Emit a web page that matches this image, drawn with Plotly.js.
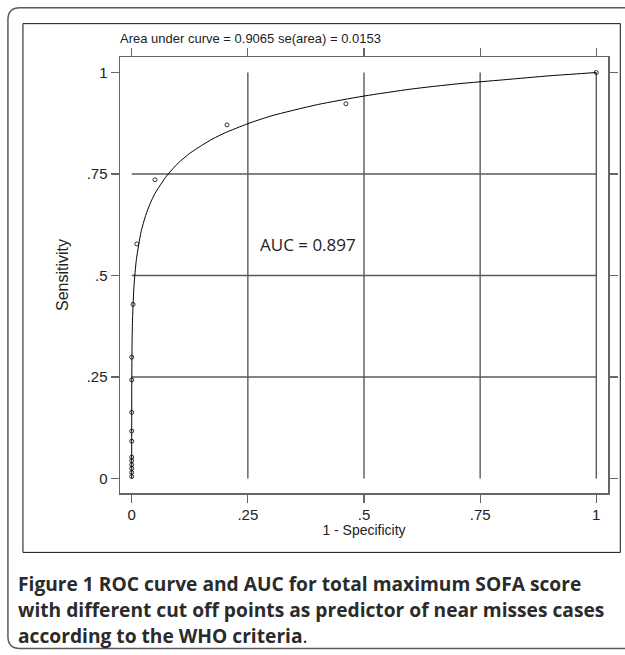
<!DOCTYPE html>
<html>
<head>
<meta charset="utf-8">
<script src="https://cdn.plot.ly/plotly-3.0.1.min.js"></script>
<style>
  html, body { margin: 0; padding: 0; background: #ffffff; }
  #chart { width: 625px; height: 655px; }
</style>
</head>
<body>
<div id="chart"></div>
<script>
// ---- data ----
// fitted ROC curve (1 - specificity, sensitivity)
const curveX = [0, 0.00001, 0.0001, 0.0005, 0.001, 0.002, 0.005, 0.01, 0.02, 0.03, 0.04, 0.05, 0.075, 0.1, 0.125, 0.15, 0.175, 0.2, 0.25, 0.3, 0.4, 0.5, 0.6, 0.7, 0.8, 0.9, 0.95, 1];
const curveY = [0, 0.13, 0.216, 0.304, 0.35, 0.401, 0.476, 0.539, 0.607, 0.648, 0.678, 0.702, 0.745, 0.777, 0.801, 0.82, 0.837, 0.851, 0.874, 0.893, 0.921, 0.942, 0.959, 0.972, 0.982, 0.992, 0.996, 1];
// empirical cut-off points
const pointX = [0, 0, 0, 0, 0, 0, 0, 0, 0, 0, 0, 0.003, 0.011, 0.05, 0.205, 0.461, 1];
const pointY = [0.005, 0.015, 0.025, 0.034, 0.044, 0.053, 0.092, 0.117, 0.163, 0.243, 0.299, 0.429, 0.578, 0.736, 0.871, 0.923, 1];
// axes
const xTickVals = [0, 0.25, 0.5, 0.75, 1];
const xTickText = ['0', '.25', '.5', '.75', '1'];
const yTickVals = [0, 0.25, 0.5, 0.75, 1];
const yTickText = ['0', '.25', '.5', '.75', '1'];
const xGridVals = [0.25, 0.5, 0.75, 1];
const yGridVals = [0.25, 0.5, 0.75];
// texts
const chartTitle = 'Area under curve = 0.9065 se(area) = 0.0153';
const xTitle = '1 - Specificity';
const yTitle = 'Sensitivity';
const aucLabel = 'AUC = 0.897';
const captionLines = [
  '<b>Figure 1</b> <b>ROC curve and AUC for total maximum SOFA score</b>',
  '<b>with different cut off points as predictor of near misses cases</b>',
  '<b>according to the WHO criteria</b>.'
];

// ---- layout geometry (pixels) ----
const L = 120, R = 607.7, T = 57.3, B = 492.7;
const W = R - L, H = B - T;
const px = x => (x - L) / W;
const py = y => (B - y) / H;

const sans = 'Liberation Sans, Arial, sans-serif';
const axisCol = '#666666';
const gridCol = '#5a5a5a';

const shapes = [];
xGridVals.forEach(v => shapes.push({type: 'line', xref: 'x', yref: 'y', x0: v, x1: v, y0: 0, y1: 1, line: {color: gridCol, width: 1.4}, layer: 'below'}));
yGridVals.forEach(v => shapes.push({type: 'line', xref: 'x', yref: 'y', x0: 0, x1: 1, y0: v, y1: v, line: {color: gridCol, width: 1.4}, layer: 'below'}));

// outer rounded frame
const P = (x, y) => px(x).toFixed(5) + ',' + py(y).toFixed(5);
shapes.push({
  type: 'path', xref: 'paper', yref: 'paper',
  path: 'M ' + P(640, 8) + ' L ' + P(20, 8) + ' Q ' + P(8, 8) + ' ' + P(8, 20) +
        ' L ' + P(8, 636) + ' Q ' + P(8, 648) + ' ' + P(20, 648) + ' L ' + P(640, 648),
  line: {color: '#5a5a5a', width: 1.5}
});
// inner chart frame
shapes.push({type: 'rect', xref: 'paper', yref: 'paper', x0: px(23), x1: px(620), y0: py(24), y1: py(552), line: {color: '#111111', width: 1}});

const annotations = [
  {xref: 'paper', yref: 'paper', x: px(308), y: py(245), text: aucLabel, showarrow: false,
   xanchor: 'center', yanchor: 'middle', font: {family: 'Open Sans, sans-serif', size: 17, color: '#222222'}}
];
const capY = [583, 609, 635];
captionLines.forEach((t, i) => annotations.push({
  xref: 'paper', yref: 'paper', x: px(16), y: py(capY[i]), text: t, showarrow: false,
  xanchor: 'left', yanchor: 'middle', align: 'left',
  font: {family: 'Open Sans, sans-serif', size: 19.2, color: '#2b2b2b'}
}));

const traces = [
  {x: curveX, y: curveY, type: 'scatter', mode: 'lines', line: {color: '#000000', width: 1, shape: 'spline', smoothing: 0.6}, hoverinfo: 'skip'},
  {x: pointX, y: pointY, type: 'scatter', mode: 'markers', marker: {symbol: 'circle-open', size: 4, color: '#000000', line: {width: 0.8}}}
];

const layout = {
  width: 625, height: 655,
  margin: {l: L, r: 625 - R, t: T, b: 655 - B, pad: 0},
  paper_bgcolor: '#ffffff', plot_bgcolor: '#ffffff',
  showlegend: false,
  title: {text: chartTitle, xref: 'paper', x: 0, xanchor: 'left', yref: 'container', y: 1 - 38 / 655, yanchor: 'middle',
          font: {family: sans, size: 13, color: '#222222'}},
  xaxis: {
    range: [-0.0252, 1.0252], tickvals: xTickVals, ticktext: xTickText,
    ticks: 'outside', ticklen: 8, tickwidth: 1.2, tickcolor: axisCol,
    showline: true, linecolor: axisCol, linewidth: 1.5, mirror: 'ticks',
    showgrid: false, zeroline: false, ticklabelstandoff: -1,
    tickfont: {family: sans, size: 15, color: '#222222'},
    title: {text: xTitle, standoff: 0, font: {family: sans, size: 14, color: '#222222'}}
  },
  yaxis: {
    range: [-0.0355, 1.0382], tickvals: yTickVals, ticktext: yTickText,
    ticks: 'outside', ticklen: 8, tickwidth: 1.2, tickcolor: axisCol,
    showline: true, linecolor: axisCol, linewidth: 1.5, mirror: 'ticks',
    showgrid: false, zeroline: false,
    tickfont: {family: sans, size: 15, color: '#222222'},
    title: {text: yTitle, standoff: 14, font: {family: sans, size: 16, color: '#222222'}}
  },
  shapes: shapes,
  annotations: annotations
};

Plotly.newPlot('chart', traces, layout, {displayModeBar: false, staticPlot: true});
</script>
</body>
</html>
